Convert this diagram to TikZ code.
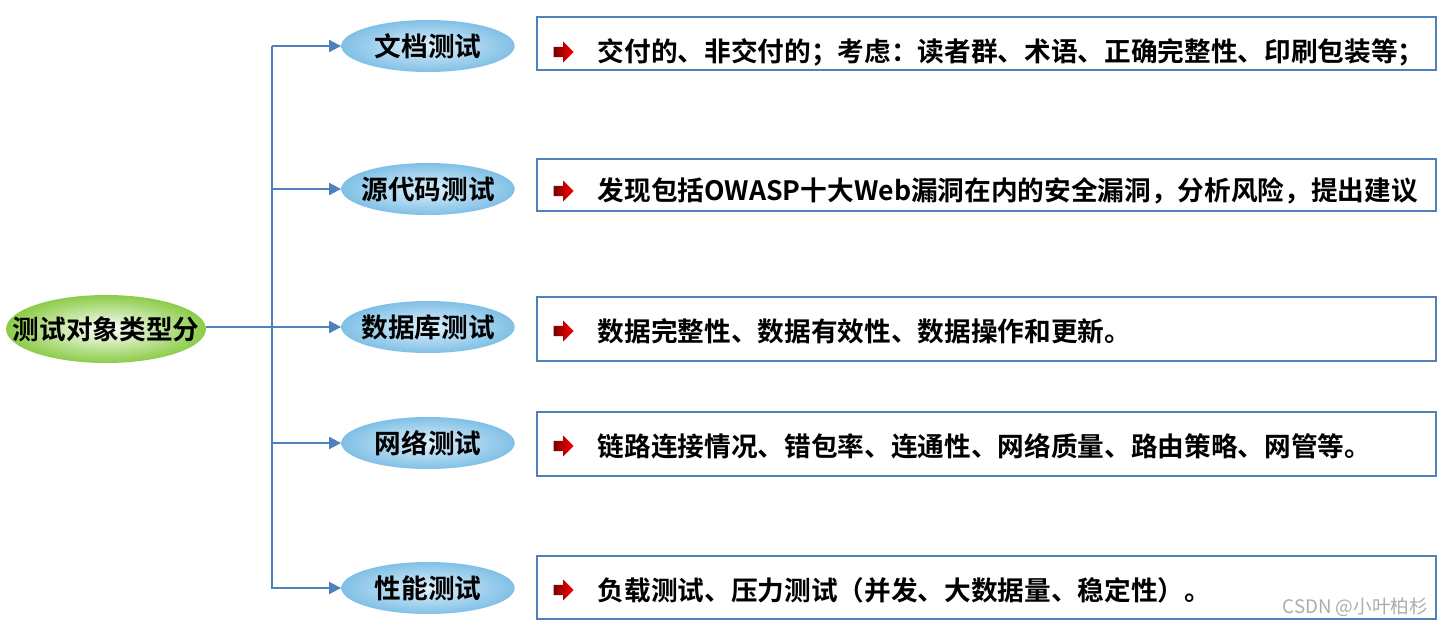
\documentclass[tikz,border=0pt]{standalone}
\usepackage{fontspec}
\newfontfamily\cjk[BoldFont={Noto Sans CJK SC Bold}]{Noto Sans CJK SC}
\usetikzlibrary{positioning,arrows.meta,shapes.geometric,shapes.arrows}

\definecolor{linkblue}{RGB}{79,129,189}
\definecolor{leafblue}{RGB}{128,192,230}
\definecolor{leaflight}{RGB}{222,240,251}
\definecolor{rootgreen}{RGB}{140,204,72}
\definecolor{markdark}{RGB}{120,0,0}

\tikzset{every node/.style={font=\cjk\bfseries\fontsize{20}{23}\selectfont}}
\tikzstyle{root}=[ellipse,minimum width=146pt,minimum height=51pt,inner xsep=-17pt,inner ysep=0pt,
  shading=radial,inner color=white,outer color=rootgreen]
\tikzstyle{kind}=[ellipse,minimum width=130pt,minimum height=39pt,inner xsep=-10pt,inner ysep=0pt,
  shading=radial,inner color=leaflight,outer color=leafblue]
\tikzstyle{note}=[draw=linkblue,line width=1.5pt,minimum width=674pt,inner sep=0pt]
\tikzstyle{redmark}=[single arrow,minimum height=15pt,minimum width=15pt,
  single arrow head extend=4pt,inner sep=3.6pt,left color=markdark,right color=red]
\tikzstyle{link}=[linkblue,line width=1.5pt]

\begin{document}
\begin{tikzpicture}[x=0.75pt,y=-0.75pt]
    \useasboundingbox (0,0) rectangle (1446,629);
    \node [root] (root) at (106,329) {测试对象类型分};
    \coordinate (top) at (272,46);
    \coordinate (bottom) at (272,589);
    \coordinate (fork) at (272,327);
    \draw [link] (top) -- (bottom);
    \draw [link] (root.east |- fork) -- (fork);
    % rows: ellipse y / box centre y / box height / text y / names
    \foreach \ky/\by/\bh/\ty/\kname/\ktext/\ntext in {
        46/43.5/53/52/doc/文档测试/交付的、非交付的；考虑：读者群、术语、正确完整性、印刷包装等；,
        189/185/52/191/code/源代码测试/发现包括OWASP十大Web漏洞在内的安全漏洞，分析风险，提出建议,
        327/329/64/331/db/数据库测试/数据完整性、数据有效性、数据操作和更新。,
        443/444/64/446/net/网络测试/链路连接情况、错包率、连通性、网络质量、路由策略、网管等。,
        588/587.5/63/590/perf/性能测试/负载测试、压力测试（并发、大数据量、稳定性）。}
    {
        \node [kind] (\kname) at (428,\ky) {\ktext};
        \coordinate (\kname-in) at (272,\ky);
        \draw [link,-{Triangle[length=9pt,width=9pt]}] (\kname-in) -- (\kname.west);
        \node [note,minimum height=\bh*0.75pt] (\kname-box) at (986.5,\by) {};
        \node [redmark] (\kname-mark) at (561,\ty) {};
        \node [anchor=west] (\kname-text) at (593,\ty) {\ntext};
    }
    \node [font=\cjk\fontsize{14}{16}\selectfont,text=gray!65,anchor=east] (watermark) at (1433,607) {CSDN @小叶柏杉};
\end{tikzpicture}
\end{document}
